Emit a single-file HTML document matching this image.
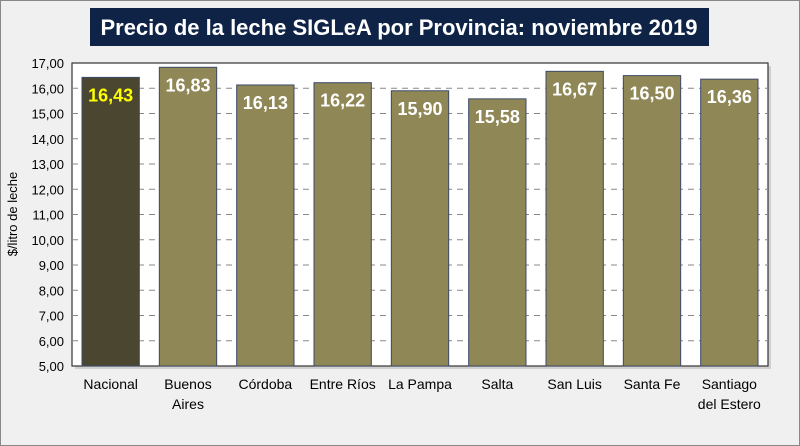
<!DOCTYPE html>
<html><head><meta charset="utf-8"><style>
html,body{margin:0;padding:0;background:#f0f0f0;}
svg{display:block;font-family:"Liberation Sans",sans-serif;}
</style></head><body>
<svg width="800" height="446" viewBox="0 0 800 446">
<rect x="0.5" y="0.5" width="799" height="445" fill="#f0f0f0" stroke="#888"/>
<rect x="90" y="8" width="619" height="38" fill="#0f2347"/>
<text x="399" y="35" text-anchor="middle" fill="#fff" font-size="22" font-weight="bold">Precio de la leche SIGLeA por Provincia: noviembre 2019</text>
<rect x="75" y="66" width="696" height="303" fill="#bbb" opacity="0.6"/>
<rect x="72" y="63" width="696" height="303" fill="#fff" stroke="#333" stroke-width="1.2"/>
<g id="grid"></g><g id="bars"></g><g id="axes"></g>
<text transform="translate(17,214) rotate(-90)" text-anchor="middle" font-size="13" fill="#000">$/litro de leche</text>
</svg>
<script>
const categories=["Nacional","Buenos Aires","Córdoba","Entre Ríos","La Pampa","Salta","San Luis","Santa Fe","Santiago del Estero"];
const values=[16.43,16.83,16.13,16.22,15.90,15.58,16.67,16.50,16.36];
const valueLabels=["16,43","16,83","16,13","16,22","15,90","15,58","16,67","16,50","16,36"];
const yTicks=[5,6,7,8,9,10,11,12,13,14,15,16,17];
const NS="http://www.w3.org/2000/svg";
const L=72,R=768,T=63,B=366,ymin=5,ymax=17;
const y=v=>B-(v-ymin)/(ymax-ymin)*(B-T);
const bw=(R-L)/categories.length;
const x=i=>L+i*bw;
function mk(t,a,p){const e=document.createElementNS(NS,t);for(const k in a)e.setAttribute(k,a[k]);p.appendChild(e);return e;}
const grid=document.getElementById('grid'),bars=document.getElementById('bars'),axes=document.getElementById('axes');
yTicks.forEach(v=>{
  if(v>ymin&&v<ymax){const g=mk('line',{x1:L,x2:R,y1:y(v),y2:y(v),stroke:'#888','stroke-dasharray':'6,5','stroke-width':1},grid);
  
  }
  const t=mk('text',{x:L-8,y:y(v)+5,'text-anchor':'end','font-size':13,fill:'#000'},axes);
  t.textContent=v.toFixed(2).replace('.',',');
  
  
});
categories.forEach((c,i)=>{
  const bx=x(i)+10,w=bw-20;
  const r=mk('rect',{x:bx,y:y(values[i]),width:w,height:B-y(values[i]),fill:i===0?'#4a4630':'#8f8756',stroke:'#3c4a68','stroke-width':1},bars);
  
  
  const t=mk('text',{x:bx+w/2,y:y(values[i])+24,'text-anchor':'middle','font-size':18,'font-weight':'bold',fill:i===0?'#ffff00':'#fff'},bars);
  t.textContent=valueLabels[i];
  
  
  const words=c.split(' ');
  const lines=words.length>1?(c==="Entre Ríos"||c==="La Pampa"||c==="San Luis"||c==="Santa Fe"?[c]:[words[0],words.slice(1).join(' ')]):[c];
  lines.forEach((ln,j)=>{
    const lt=mk('text',{x:bx+w/2,y:B+23+j*20,'text-anchor':'middle','font-size':14,fill:'#000'},axes);
    lt.textContent=ln;
    
    
  });
});
</script>
</body></html>
